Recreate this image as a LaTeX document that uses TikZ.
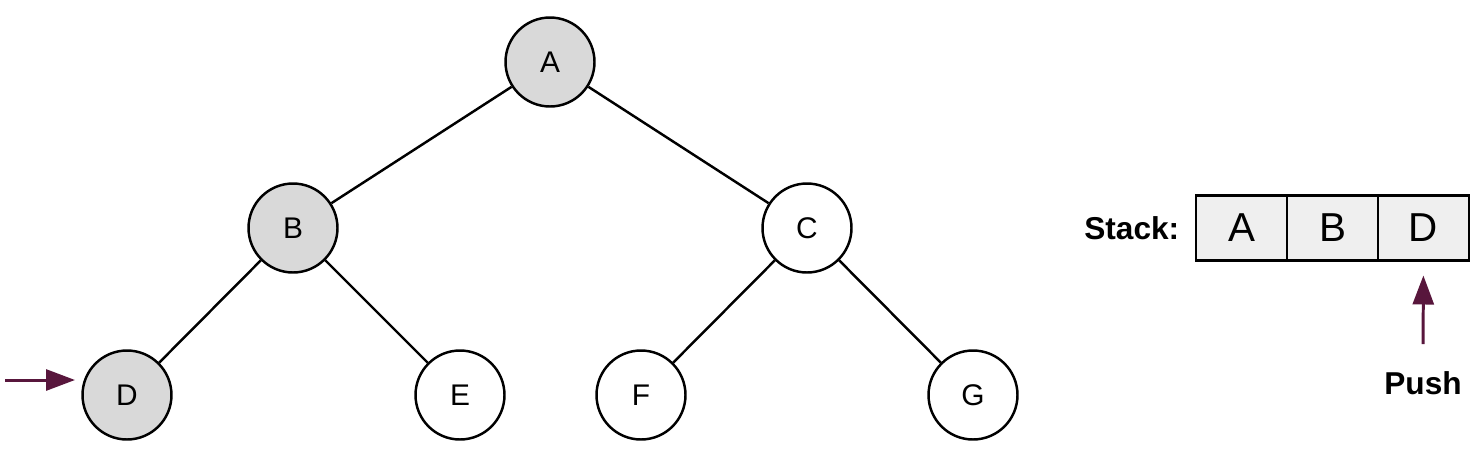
\documentclass[tikz,border=0pt]{standalone}
\usepackage{fontspec}
\setmainfont{Liberation Sans}
\usepackage{tikz}
\usetikzlibrary{arrows.meta,positioning,calc}
\definecolor{mygray}{RGB}{217,217,217}
\definecolor{mylight}{RGB}{239,239,239}
\definecolor{mymaroon}{RGB}{88,22,60}

\tikzset{
  treenode/.style={circle, draw=black, line width=1.4pt, fill=white,
                   minimum size=1.78cm, inner sep=0pt, font=\fontsize{17}{20}\selectfont},
  seen/.style={fill=mygray},
  edge/.style={line width=1.4pt},
  cell/.style={draw=black, line width=1.4pt, fill=mylight, minimum width=1.82cm,
               minimum height=1.3cm, inner sep=0pt, outer sep=0pt,
               font=\fontsize{23}{26}\selectfont},
  markarrow/.style={draw=mymaroon, line width=1.7pt,
                    -{Triangle[length=0.58cm,width=0.42cm]}}
}

\begin{document}
\begin{tikzpicture}[x=0.02cm, y=-0.02cm]
  \useasboundingbox (0,0) rectangle (1478,457);
  % Tree
  \node[treenode, seen] (A) at (550,62) {A};
  \node[treenode, seen] (B) at (293,228) {B};
  \node[treenode] (C) at (807,228) {C};
  \foreach \n/\x/\s in {D/127/seen, E/460/, F/641/, G/973/}{
    \node[treenode, \s] (\n) at (\x,395) {\n};
  }
  \foreach \p/\c in {A/B, A/C, B/D, B/E, C/F, C/G}{
    \draw[edge] (\p) -- (\c);
  }
  % Current node marker
  \coordinate (mstart) at (5,380);
  \coordinate (mend) at (75,380);
  \draw[markarrow] (mstart) -- (mend);
  % Stack
  \node[cell, anchor=west] (sA) at (1196,228) {A};
  \node[cell, right=0pt of sA] (sB) {B};
  \node[cell, right=0pt of sB] (sD) {D};
  \node[font=\bfseries\fontsize{18}{21}\selectfont, left=6pt of sA] (stack) {Stack:};
  \node[font=\bfseries\fontsize{18}{21}\selectfont] (push) at (1423,383) {Push};
  \draw[markarrow, shorten <=0.42cm, shorten >=0.3cm] (push.north) -- (sD.south);
\end{tikzpicture}
\end{document}
